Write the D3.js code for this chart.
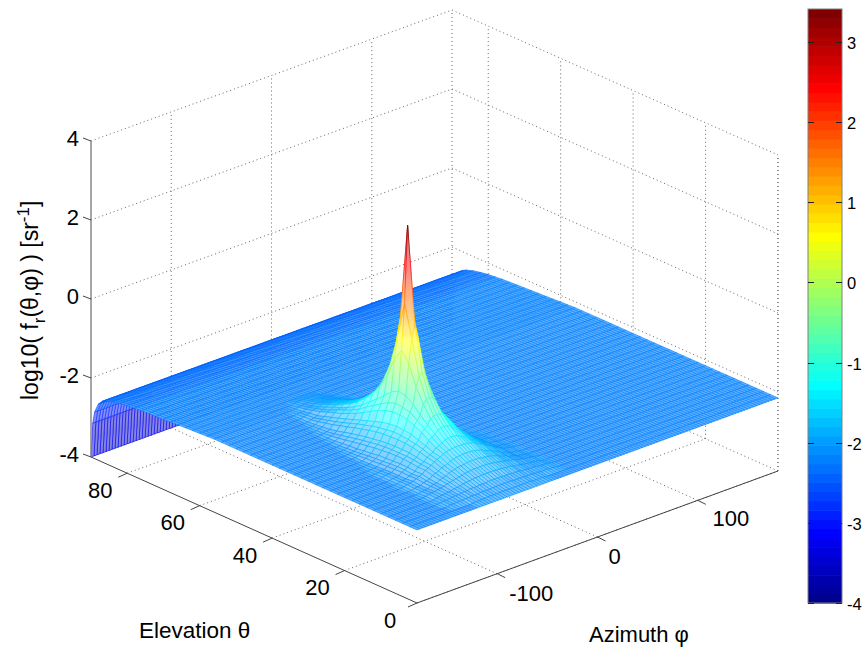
<!DOCTYPE html>
<html><head><meta charset="utf-8">
<script src="https://cdn.jsdelivr.net/npm/d3@7/dist/d3.min.js"></script>
<style>html,body{margin:0;background:#fff}text{font-family:"Liberation Sans",Arial,sans-serif;fill:#000}</style>
</head><body><div id="c"></div>
<script>
const thetaTicks=[0,20,40,60,80], phiTicks=[-100,0,100], zTicks=[-4,-2,0,2,4], barTicks=[-4,-3,-2,-1,0,1,2,3];
const thetaValues=[0,2,4,6,8,10,12,14,16,18,20,22,24,26,28,30,32,34,36,38,40,42,44,46,48,50,52,54,56,58,60,62,64,66,68,70,72,74,76,78,80,82,84,86,87,88,89,89.5,90];
const phiValues=d3.range(-180,181,3);
// height of the flat floor of the surface along each elevation row
const baseZ=[-2.15,-2.15,-2.15,-2.15,-2.15,-2.15,-2.15,-2.15,-2.15,-2.15,-2.15,-2.15,-2.15,-2.15,-2.15,-2.15,-2.15,-2.15,-2.15,-2.15,-2.15,-2.15,-2.15,-2.15,-2.15,-2.15,-2.15,-2.15,-2.15,-2.16,-2.17,-2.18,-2.19,-2.2,-2.21,-2.22,-2.23,-2.24,-2.25,-2.27,-2.29,-2.32,-2.36,-2.42,-2.47,-2.58,-2.82,-3.12,-4];
// specular lobe, centred on this azimuth: for each elevation, z at 0,3,6... degrees away from it
const lobePhi=-81;
const lobeThetas=[2,4,6,8,10,12,14,16,18,20,22,24,26,28,30,32,34,36,38,40,42,44,46,48,50,52,54,56,58];
const lobeRows=[
[-2.12,-2.12,-2.12,-2.12,-2.12,-2.12,-2.12,-2.12,-2.13,-2.13,-2.13,-2.13,-2.14],
[-2.08,-2.08,-2.08,-2.08,-2.09,-2.09,-2.09,-2.09,-2.1,-2.1,-2.1,-2.11,-2.11,-2.12,-2.12,-2.12,-2.13,-2.13,-2.14],
[-2.03,-2.03,-2.03,-2.04,-2.04,-2.04,-2.05,-2.05,-2.05,-2.07,-2.07,-2.08,-2.09,-2.09,-2.1,-2.11,-2.12,-2.12,-2.13,-2.14],
[-1.96,-1.96,-1.96,-1.97,-1.97,-1.98,-1.99,-2,-2.01,-2.03,-2.04,-2.05,-2.07,-2.08,-2.09,-2.1,-2.11,-2.12,-2.14],
[-1.88,-1.88,-1.88,-1.89,-1.9,-1.91,-1.93,-1.94,-1.96,-1.98,-2,-2.01,-2.04,-2.06,-2.07,-2.09,-2.1,-2.11,-2.13,-2.14],
[-1.8,-1.8,-1.8,-1.82,-1.83,-1.84,-1.86,-1.88,-1.9,-1.95,-1.97,-1.99,-2.04,-2.05,-2.07,-2.1,-2.11,-2.12,-2.14],
[-1.7,-1.7,-1.71,-1.72,-1.74,-1.76,-1.8,-1.83,-1.85,-1.9,-1.93,-1.96,-2.02,-2.04,-2.06,-2.1,-2.11,-2.12,-2.14],
[-1.6,-1.6,-1.61,-1.62,-1.64,-1.66,-1.71,-1.75,-1.78,-1.84,-1.88,-1.91,-1.98,-2.01,-2.04,-2.08,-2.1,-2.11,-2.13,-2.14],
[-1.45,-1.46,-1.47,-1.52,-1.56,-1.59,-1.67,-1.71,-1.75,-1.83,-1.87,-1.91,-1.99,-2.03,-2.05,-2.1,-2.11,-2.12,-2.14],
[-1.27,-1.28,-1.3,-1.38,-1.43,-1.49,-1.6,-1.65,-1.7,-1.8,-1.84,-1.89,-1.97,-2.01,-2.04,-2.1,-2.11,-2.12,-2.14],
[-1.05,-1.06,-1.1,-1.23,-1.3,-1.37,-1.53,-1.6,-1.66,-1.77,-1.83,-1.87,-1.97,-2.01,-2.05,-2.1,-2.11,-2.12,-2.14],
[-0.7,-0.72,-0.82,-1.06,-1.17,-1.27,-1.47,-1.57,-1.64,-1.77,-1.83,-1.87,-1.98,-2.02,-2.06,-2.11,-2.12,-2.13,-2.14],
[-0.15,-0.22,-0.47,-0.88,-1.05,-1.2,-1.44,-1.55,-1.63,-1.77,-1.83,-1.88,-1.99,-2.04,-2.07,-2.12,-2.13,-2.14],
[1,0.65,0.05,-0.74,-1,-1.17,-1.43,-1.54,-1.64,-1.78,-1.84,-1.9,-2,-2.05,-2.09,-2.13,-2.14],
[3.41,1.45,0.3,-0.7,-0.98,-1.17,-1.45,-1.57,-1.65,-1.8,-1.86,-1.92,-2.03,-2.07,-2.1,-2.14],
[1,0.5,0,-0.8,-1.05,-1.22,-1.49,-1.6,-1.68,-1.83,-1.89,-1.95,-2.05,-2.09,-2.12,-2.14],
[-0.15,-0.25,-0.52,-0.98,-1.16,-1.3,-1.55,-1.64,-1.72,-1.86,-1.92,-1.98,-2.08,-2.11,-2.13,-2.14],
[-0.7,-0.74,-0.86,-1.15,-1.28,-1.4,-1.62,-1.7,-1.77,-1.9,-1.96,-2.01,-2.09,-2.12,-2.14],
[-1.05,-1.07,-1.13,-1.3,-1.4,-1.52,-1.68,-1.75,-1.82,-1.94,-2,-2.05,-2.11,-2.14],
[-1.27,-1.28,-1.32,-1.46,-1.54,-1.62,-1.75,-1.82,-1.88,-1.99,-2.04,-2.08,-2.13,-2.14],
[-1.45,-1.46,-1.49,-1.59,-1.65,-1.7,-1.82,-1.88,-1.93,-2.04,-2.08,-2.11,-2.14],
[-1.6,-1.61,-1.62,-1.69,-1.73,-1.79,-1.88,-1.94,-1.99,-2.08,-2.11,-2.13,-2.14],
[-1.7,-1.71,-1.72,-1.78,-1.81,-1.85,-1.94,-1.99,-2.03,-2.1,-2.12,-2.14],
[-1.8,-1.8,-1.82,-1.85,-1.89,-1.92,-2,-2.04,-2.08,-2.12,-2.14],
[-1.88,-1.88,-1.89,-1.93,-1.96,-1.99,-2.06,-2.09,-2.11,-2.14],
[-1.96,-1.96,-1.97,-2,-2.02,-2.04,-2.08,-2.1,-2.12,-2.14],
[-2.03,-2.03,-2.04,-2.06,-2.07,-2.09,-2.12,-2.13,-2.14],
[-2.08,-2.08,-2.09,-2.1,-2.11,-2.12,-2.14],
[-2.12,-2.12,-2.12,-2.13,-2.14]
];

const W=867,H=651;
const svg=d3.select('#c').append('svg').attr('width',W).attr('height',H).style('display','block');
const defs=svg.append('defs');

// box frame of the 3-D axes on the page
const A=[91,457],B=[417,603],C=[778,471],D=[452,326];
const uS=d3.scaleLinear().domain([0,90]).range([0,1]);
const vS=d3.scaleLinear().domain([-180,180]).range([0,1]);
const hS=d3.scaleLinear().domain([-4,4]).range([0,316]);
function proj(t,p,z){
  const u=uS(t),v=vS(p);
  const x=B[0]+u*(A[0]-B[0])+v*(C[0]-B[0])+u*v*(D[0]-A[0]-C[0]+B[0]);
  const y=B[1]+u*(A[1]-B[1])+v*(C[1]-B[1])+u*v*(D[1]-A[1]-C[1]+B[1]);
  return [x,y-hS(z)];
}
const line=d3.line();

// jet colormap, 64 steps
const jetI=d3.scaleLinear().domain([0,7,23,39,55,63]).range(['rgb(0,0,143)','rgb(0,0,255)','rgb(0,255,255)','rgb(255,255,0)','rgb(255,0,0)','rgb(128,0,0)']);
const jet=d3.range(64).map(i=>jetI(i));
const zMin=-4,zMax=3.41;
const col=d3.scaleQuantize().domain([zMin,zMax]).range(jet);

// grid
const dotted={stroke:'#666','stroke-width':1,'stroke-dasharray':'1 3',fill:'none'};
const gGrid=svg.append('g');
function dot(pts){const p=gGrid.append('path').attr('d',line(pts));for(const k in dotted)p.attr(k,dotted[k]);}
thetaTicks.forEach(t=>{
  dot([proj(t,-180,-4),proj(t,180,-4)]);
  dot([proj(t,180,-4),proj(t,180,4)]);
});
phiTicks.forEach(p=>{
  dot([proj(0,p,-4),proj(90,p,-4)]);
  dot([proj(90,p,-4),proj(90,p,4)]);
});
zTicks.forEach(z=>{
  dot([proj(90,-180,z),proj(90,180,z)]);
  dot([proj(90,180,z),proj(0,180,z)]);
});
dot([proj(90,180,-4),proj(90,180,4)]);
dot([proj(0,180,-4),proj(0,180,4)]);

// surface values
const lobeByTheta=new Map(lobeThetas.map((t,i)=>[t,lobeRows[i]]));
const zGrid=thetaValues.map((t,i)=>phiValues.map(p=>{
  const r=lobeByTheta.get(t), k=Math.abs(p-lobePhi)/3;
  return r&&k<r.length?r[k]:baseZ[i];
}));

// mesh, far cells first. The reference mesh is finer than this grid, so each cell is
// tinted: stretched cells show more white between lines, squeezed cells show less.
const area0=17.5;
const tint=d3.scaleLinear().domain([0,1]).range([0,.36]);
function quadArea(q){return Math.abs((q[2][0]-q[0][0])*(q[3][1]-q[1][1])-(q[3][0]-q[1][0])*(q[2][1]-q[0][1]))/2;}
let gid=0;
function grad(pts,zs,w){
  const id='g'+(gid++), ys=pts.map(q=>q[1]), hi=d3.max(zs), lo=d3.min(zs);
  const g=defs.append('linearGradient').attr('id',id).attr('gradientUnits','userSpaceOnUse')
    .attr('x1',0).attr('x2',0).attr('y1',d3.min(ys)).attr('y2',d3.max(ys));
  d3.range(0,9).forEach(k=>g.append('stop').attr('offset',k/8)
    .attr('stop-color',d3.interpolateRgb(col(hi+(lo-hi)*k/8),'#fff')(w)));
  return 'url(#'+id+')';
}
const gMesh=svg.append('g');
for(let i=thetaValues.length-2;i>=0;i--){
  for(let j=phiValues.length-2;j>=0;j--){
    const t0=thetaValues[i],t1=thetaValues[i+1],p0=phiValues[j],p1=phiValues[j+1];
    const zs=[zGrid[i][j],zGrid[i+1][j],zGrid[i+1][j+1],zGrid[i][j+1]];
    const pts=[proj(t0,p0,zs[0]),proj(t1,p0,zs[1]),proj(t1,p1,zs[2]),proj(t0,p1,zs[3])];
    const w=Math.min(.52,tint(quadArea(pts)/area0));
    const steep=d3.max(zs)-d3.min(zs)>.4 && t0>4 && t0<80;
    gMesh.append('path').attr('d',line(pts)+'Z')
      .attr('fill',steep?grad(pts,zs,w):d3.interpolateRgb(col(d3.mean(zs)),'#fff')(w))
      .attr('stroke',steep?grad(pts,zs,0):col(d3.max(zs))).attr('stroke-width',.6);
  }
}

// axes
const axG=svg.append('g').attr('fill','none');
const axisCol='#444';
axG.append('path').attr('d',line([proj(90,-180,-4),proj(0,-180,-4),proj(0,180,-4)])).attr('stroke',axisCol);
axG.append('path').attr('d',line([proj(90,-180,-4),proj(90,-180,4)])).attr('stroke','#888').attr('stroke-width',1.5);
thetaTicks.forEach(t=>{const a=proj(t,-180,-4);axG.append('path').attr('d',line([a,[a[0]-9,a[1]+4]])).attr('stroke',axisCol);});
phiTicks.forEach(p=>{const a=proj(0,p,-4);axG.append('path').attr('d',line([a,[a[0]+8,a[1]+4]])).attr('stroke',axisCol);});
zTicks.forEach(z=>{const a=proj(90,-180,z);axG.append('path').attr('d',line([a,[a[0]-8,a[1]-3]])).attr('stroke',axisCol);});

const tf=22;
function lab(x,y,s,fs){return svg.append('text').attr('x',x).attr('y',y).attr('text-anchor','middle').attr('dominant-baseline','central').attr('font-size',fs||tf).text(s);}
thetaTicks.forEach(t=>{const a=proj(t,-180,-4);lab(a[0]-27,a[1]+17,t);});
phiTicks.forEach(p=>{const a=proj(0,p,-4);lab(a[0]+(p<0?34:p?33:17),a[1]+(p<0?20:p?18:19),p);});
zTicks.forEach(z=>{const a=proj(90,-180,z);svg.append('text').attr('x',a[0]-12).attr('y',a[1]-3).attr('text-anchor','end').attr('dominant-baseline','central').attr('font-size',tf).text(z);});

svg.append('text').attr('x',139).attr('y',638).attr('font-size',22.5).text('Elevation θ');
svg.append('text').attr('x',589).attr('y',642).attr('font-size',22).text('Azimuth φ');
const yt=svg.append('text').attr('transform','translate(38,400) rotate(-90)').attr('font-size',23);
yt.append('tspan').text('log10( f');
yt.append('tspan').attr('dy',7).attr('font-size',17).text('r');
yt.append('tspan').attr('dy',-7).text('(θ,φ) ) [sr');
yt.append('tspan').attr('dy',-9).attr('font-size',17).text('-1');
yt.append('tspan').attr('dy',9).text(']');

// colorbar
const bx=808,bw=34;
const by=d3.scaleLinear().domain([zMin,zMax]).range([603,9]);
const gBar=svg.append('g');
const lev=d3.range(64);
const levS=d3.scaleLinear().domain([0,64]).range([zMin,zMax]);
gBar.selectAll('rect').data(lev).join('rect').attr('x',bx).attr('width',bw)
  .attr('y',i=>by(levS(i+1))).attr('height',i=>by(levS(i))-by(levS(i+1))+.6).attr('fill',i=>jet[i]);
gBar.append('rect').attr('x',bx).attr('y',9).attr('width',bw).attr('height',594).attr('fill','none').attr('stroke','#808080');
barTicks.forEach(v=>{
  const y=Math.round(by(v))+.5;
  gBar.append('path').attr('d',line([[bx,y],[bx+6,y]])).attr('stroke','#222');
  gBar.append('path').attr('d',line([[bx+bw-6,y],[bx+bw,y]])).attr('stroke','#222');
  gBar.append('text').attr('x',847).attr('y',y).attr('dominant-baseline','central').attr('font-size',16.5).text(v);
});
</script></body></html>
